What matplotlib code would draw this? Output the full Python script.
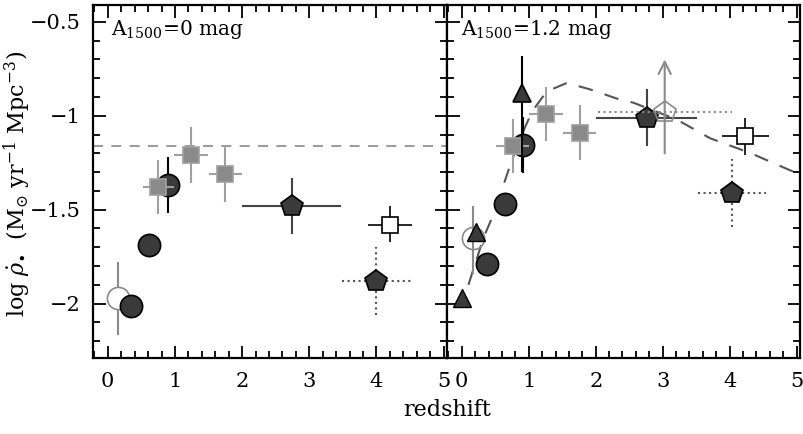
import matplotlib
matplotlib.use("Agg")
import matplotlib.pyplot as plt
from matplotlib.ticker import MultipleLocator

plt.rcParams['font.family'] = ['DejaVu Serif']
plt.rcParams['mathtext.fontset'] = 'dejavuserif'

# ---------------- data: A1500 = 0 mag (left panel) ----------------
L_ocirc_z = [0.15]; L_ocirc_y = [-1.97]; L_ocirc_yerr = [[0.20], [0.19]]; L_ocirc_xerr = [0.15]
L_circ_z = [0.35, 0.62, 0.89]; L_circ_y = [-2.015, -1.69, -1.37]; L_circ_yerr = [0.05, 0.06, 0.15]
L_sq_z = [0.75, 1.24, 1.75]; L_sq_y = [-1.38, -1.21, -1.31]
L_sq_xerr = [0.23, 0.25, 0.25]; L_sq_yerr = [0.145, 0.15, 0.15]
L_pent_z = [2.74]; L_pent_y = [-1.48]; L_pent_xerr = [[0.74], [0.73]]; L_pent_yerr = [0.15]
L_osq_z = [4.2]; L_osq_y = [-1.58]; L_osq_xerr = [0.33]; L_osq_yerr = [[0.09], [0.10]]
L_dpent_z = [4.0]; L_dpent_y = [-1.88]; L_dpent_xerr = [0.51]; L_dpent_yerr = [0.18]
L_hline = -1.16

# ---------------- data: A1500 = 1.2 mag (right panel) ----------------
R_tri_z = [0.0, 0.22]; R_tri_y = [-1.97, -1.62]
R_tri2_z = [0.90]; R_tri2_y = [-0.88]; R_tri2_yerr = [[0.42], [0.20]]
R_ocirc_z = [0.17]; R_ocirc_y = [-1.65]; R_ocirc_yerr = [[0.19], [0.17]]
R_circ_z = [0.37, 0.64, 0.91]; R_circ_y = [-1.79, -1.47, -1.155]; R_circ_yerr = [0.04, 0.05, 0.15]
R_sq_z = [0.76, 1.26, 1.76]; R_sq_y = [-1.16, -0.99, -1.09]
R_sq_xerr = [0.25, 0.25, 0.25]; R_sq_yerr = [0.145, 0.145, 0.145]
R_pent_z = [2.76]; R_pent_y = [-1.01]; R_pent_xerr = [0.75]; R_pent_yerr = [0.15]
R_opent_z = [3.03]; R_opent_y = [-0.98]; R_opent_xerr = [1.0]
R_arrow_lo = -1.20; R_arrow_hi = -0.70
R_osq_z = [4.23]; R_osq_y = [-1.11]; R_osq_xerr = [0.35]; R_osq_yerr = [0.10]
R_dpent_z = [4.03]; R_dpent_y = [-1.41]; R_dpent_xerr = [0.51]; R_dpent_yerr = [0.18]
R_curve_z = [0.10, 0.33, 0.48, 0.75, 0.95, 1.05, 1.27, 1.57, 1.92, 2.37, 2.56, 3.21, 3.71, 4.32, 4.90, 5.05]
R_curve_y = [-1.90, -1.645, -1.52, -1.235, -1.057, -0.977, -0.87, -0.825, -0.86, -0.915, -0.93, -1.02, -1.12, -1.20, -1.29, -1.31]

xticks = [0, 1, 2, 3, 4, 5]
yticks = [-2, -1.5, -1, -0.5]
yticklabels = ['\u22122', '\u22121.5', '\u22121', '\u22120.5']

DARK = '#3a3a3a'
GRAY = '#8a8a8a'
LGRAY = '#a0a0a0'

fig = plt.figure(figsize=(8.04, 4.34), dpi=100)
axL = fig.add_axes([93/804, 76/434, 354/804, 353/434])
axR = fig.add_axes([447/804, 76/434, 353/804, 353/434])


def eb(ax, x, y, xerr=None, yerr=None, marker='o', ms=15, mfc=DARK, mec='black',
       ecolor='black', ls='-', elw=1.5, z=3):
    c = ax.errorbar(x, y, xerr=xerr, yerr=yerr, fmt=marker, ms=ms, mfc=mfc, mec=mec,
                    mew=1.2, ecolor=ecolor, elinewidth=elw, capsize=0, zorder=z)
    if ls != '-':
        for b in c[2]:
            b.set_linestyle(ls)
    return c


# ---- left panel ----
axL.axhline(L_hline, color=GRAY, lw=1.2, dashes=(6, 5), zorder=1)
eb(axL, L_ocirc_z, L_ocirc_y, xerr=L_ocirc_xerr, yerr=L_ocirc_yerr, marker='o', ms=16,
   mfc='white', mec=GRAY, ecolor=GRAY, z=2)
eb(axL, L_circ_z, L_circ_y, yerr=L_circ_yerr, marker='o', ms=16, mfc=DARK, mec='black')
eb(axL, L_sq_z, L_sq_y, xerr=L_sq_xerr, yerr=L_sq_yerr, marker='s', ms=12, mfc=GRAY,
   mec=LGRAY, ecolor=LGRAY, z=4)
eb(axL, L_pent_z, L_pent_y, xerr=L_pent_xerr, yerr=L_pent_yerr, marker='p', ms=16,
   mfc=DARK, mec='black', ecolor='#444444')
eb(axL, L_osq_z, L_osq_y, xerr=L_osq_xerr, yerr=L_osq_yerr, marker='s', ms=12,
   mfc='white', mec='black', ecolor='black', elw=1.2)
eb(axL, L_dpent_z, L_dpent_y, xerr=L_dpent_xerr, yerr=L_dpent_yerr, marker='p', ms=16,
   mfc=DARK, mec='black', ecolor='#555555', ls=':')

# ---- right panel ----
axR.plot(R_curve_z, R_curve_y, color='#555555', lw=1.5, dashes=(7, 6), zorder=1)
eb(axR, R_ocirc_z, R_ocirc_y, yerr=R_ocirc_yerr, marker='o', ms=16, mfc='none',
   mec=GRAY, ecolor=GRAY, z=2)
eb(axR, R_circ_z, R_circ_y, yerr=R_circ_yerr, marker='o', ms=16, mfc=DARK, mec='black')
eb(axR, R_sq_z, R_sq_y, xerr=R_sq_xerr, yerr=R_sq_yerr, marker='s', ms=12, mfc=GRAY,
   mec=LGRAY, ecolor=LGRAY, z=4)
axR.plot(R_tri_z, R_tri_y, '^', ms=13, mfc=DARK, mec='black', zorder=5, clip_on=False)
eb(axR, R_tri2_z, R_tri2_y, yerr=R_tri2_yerr, marker='^', ms=13, mfc=DARK, mec='black', z=5)
eb(axR, R_pent_z, R_pent_y, xerr=R_pent_xerr, yerr=R_pent_yerr, marker='p', ms=16,
   mfc=DARK, mec='black', ecolor='#444444')
eb(axR, R_opent_z, R_opent_y, xerr=R_opent_xerr, marker='p', ms=16, mfc='none',
   mec=GRAY, ecolor=GRAY, ls=':', z=4)
axR.annotate('', xy=(R_opent_z[0], R_arrow_hi), xytext=(R_opent_z[0], R_arrow_lo),
             arrowprops=dict(arrowstyle='->', color=GRAY, lw=1.5,
                             mutation_scale=22, shrinkA=0, shrinkB=0), zorder=4)
eb(axR, R_osq_z, R_osq_y, xerr=R_osq_xerr, yerr=R_osq_yerr, marker='s', ms=12,
   mfc='white', mec='black', ecolor='black', elw=1.2)
eb(axR, R_dpent_z, R_dpent_y, xerr=R_dpent_xerr, yerr=R_dpent_yerr, marker='p', ms=16,
   mfc=DARK, mec='black', ecolor='#555555', ls=':')

for ax in (axL, axR):
    ax.set_xlim(-0.22, 5.05)
    ax.set_ylim(-2.29, -0.41)
    ax.set_xticks(xticks)
    ax.xaxis.set_minor_locator(MultipleLocator(0.2))
    ax.yaxis.set_minor_locator(MultipleLocator(0.1))
    ax.set_yticks(yticks)
    ax.tick_params(which='both', direction='in', top=True, right=True, width=1.3,
                   labelsize=15, colors='black')
    ax.tick_params(which='major', length=9)
    ax.tick_params(which='minor', length=5)
    ax.tick_params(axis='x', which='major', pad=10)
    ax.tick_params(axis='y', which='major', pad=9)
    for s in ax.spines.values():
        s.set_linewidth(1.6)

axL.set_yticklabels(yticklabels)
axR.set_yticklabels([])
axL.set_xticklabels([str(t) for t in xticks])
axR.set_xticklabels([str(t) for t in xticks])

axL.text(0.05, 0.93, r'A$_{1500}$=0 mag', transform=axL.transAxes, fontsize=14.5,
         va='center', ha='left')
axR.text(0.04, 0.93, r'A$_{1500}$=1.2 mag', transform=axR.transAxes, fontsize=14.5,
         va='center', ha='left')

fig.text(447/804, 1 - 410/434, 'redshift', ha='center', va='center', fontsize=16)
fig.text(17/804, 1 - 184/434,
         r'log $\dot{\rho}_{\bullet}$  (M$_{\odot}$ yr$^{-1}$ Mpc$^{-3}$)',
         rotation=90, ha='center', va='center', fontsize=16)

fig.savefig('out.png', dpi=100)
